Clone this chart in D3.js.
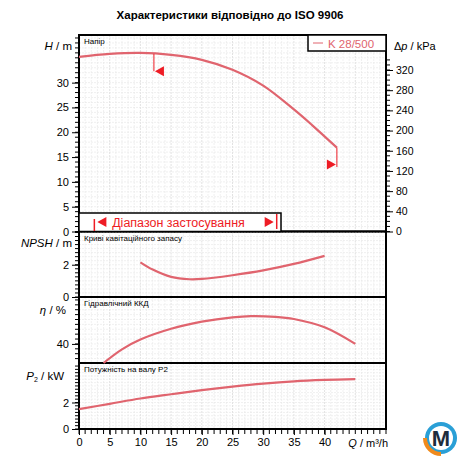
<!DOCTYPE html>
<html><head><meta charset="utf-8">
<script src="https://cdn.jsdelivr.net/npm/d3@7"></script>
<style>body{margin:0;background:#fff;font-family:Arial,"Liberation Sans",sans-serif}</style>
</head><body><div id="chart"></div>
<script>
'use strict';

// Data
const headQ = [0, 5, 10, 15, 20, 25, 30, 35, 38, 42];
const headH = [35.2, 35.8, 36.0, 35.6, 34.6, 32.6, 29.4, 24.6, 21.4, 16.9];
const npshQ = [10, 12, 15, 18, 20, 25, 30, 35, 40];
const npshV = [2.15, 1.7, 1.25, 1.1, 1.12, 1.35, 1.65, 2.05, 2.55];
const etaQ = [4, 7, 10, 15, 20, 25, 28, 32, 35, 40, 45];
const etaV = [32.2, 37.8, 41.8, 46.2, 49.1, 50.9, 51.4, 51.1, 50.2, 46.8, 40];
const powQ = [0, 5, 10, 15, 20, 25, 30, 35, 40, 45];
const powV = [1.5, 1.9, 2.3, 2.62, 2.93, 3.2, 3.43, 3.6, 3.7, 3.76];
const qTicks = [0, 5, 10, 15, 20, 25, 30, 35, 40];
const hTicks = [0, 5, 10, 15, 20, 25, 30];
const pTicks = [0, 40, 80, 120, 160, 200, 240, 280, 320];

const svg = d3.select('#chart').append('svg').attr('width', 460).attr('height', 460);
const red = '#e0646e', bright = '#ee1c25';
const x = d3.scaleLinear().domain([0, 50]).range([79, 386]);

svg.append('text').attr('x', 230).attr('y', 19).attr('text-anchor', 'middle')
    .attr('font-size', 11.5).attr('font-weight', 'bold').text('Характеристики відповідно до ISO 9906');

// Panels
const panels = [
    {top: 35, bottom: 231.5, domain: [0, 39.6], minor: 1, major: 5, ticks: hTicks, label: 'H / m', title: 'Напір'},
    {top: 231.5, bottom: 297, domain: [0, 4.06], minor: 0.25, major: 1, ticks: [0, 2], label: 'NPSH / m', title: 'Криві кавітаційного запасу'},
    {top: 297, bottom: 363, domain: [32.2, 59.2], minor: 2, major: 10, ticks: [40], label: 'η / %', title: 'Гідравлічний ККД'},
    {top: 363, bottom: 429, domain: [0, 4.98], minor: 0.25, major: 1, ticks: [0, 2], label: 'P₂ / kW', title: 'Потужність на валу P2'}
];
const line = d3.line().curve(d3.curveCatmullRom.alpha(0.5));

panels.forEach(p => {
    p.y = d3.scaleLinear().domain(p.domain).range([p.bottom, p.top]);
    const g = svg.append('g');
    // grid
    d3.range(0, 50.01, 1).forEach(q => {
        g.append('line').attr('x1', x(q)).attr('x2', x(q)).attr('y1', p.top).attr('y2', p.bottom)
            .attr('stroke', q % 5 === 0 ? '#cfcfcf' : '#e6e6e6').attr('stroke-dasharray', '2,1').attr('stroke-width', 0.6);
    });
    const start = Math.ceil(p.domain[0] / p.minor) * p.minor;
    d3.range(start, p.domain[1], p.minor).forEach(v => {
        const yy = p.y(v);
        g.append('line').attr('x1', x(0)).attr('x2', x(50)).attr('y1', yy).attr('y2', yy)
            .attr('stroke', '#e6e6e6').attr('stroke-dasharray', '2,1').attr('stroke-width', 0.6);
        g.append('line').attr('x1', x(0) - 4).attr('x2', x(0)).attr('y1', yy).attr('y2', yy)
            .attr('stroke', '#000').attr('stroke-width', 1);
    });
    const ax = g.append('g').attr('transform', `translate(${x(0)},0)`)
        .call(d3.axisLeft(p.y).tickValues(p.ticks).tickSize(7).tickFormat(d3.format('d')));
    ax.select('.domain').remove();
    ax.selectAll('text').attr('font-size', 11).attr('font-family', 'Arial, sans-serif');
    g.append('rect').attr('x', x(0)).attr('y', p.top).attr('width', x(50) - x(0)).attr('height', p.bottom - p.top)
        .attr('fill', 'none').attr('stroke', '#000').attr('stroke-width', 2);
    g.append('text').attr('x', x(0) + 5).attr('y', p.top + 9).attr('font-size', 8).text(p.title);
});

// axis labels
const lab = (xx, yy, html) => svg.append('text').attr('x', xx).attr('y', yy).attr('text-anchor', 'end')
    .attr('font-size', 11.5).html(html);
lab(72, 50, '<tspan font-style="italic">H</tspan> / m');
lab(72, 247, '<tspan font-style="italic">NPSH</tspan> / m');
lab(66, 314, '<tspan font-style="italic">η</tspan> / %');
lab(64, 380, '<tspan font-style="italic">P</tspan><tspan font-size="7" dy="2">2</tspan><tspan dy="-2"> / kW</tspan>');

// right Δp axis
const yP = d3.scaleLinear().domain([0, 320]).range([231.5, 70]);
d3.range(0, 345, 10).forEach(v => svg.append('line').attr('x1', x(50)).attr('x2', x(50) + 4)
    .attr('y1', yP(v)).attr('y2', yP(v)).attr('stroke', '#000'));
const ra = svg.append('g').attr('transform', `translate(${x(50)},0)`)
    .call(d3.axisRight(yP).tickValues(pTicks).tickSize(7));
ra.select('.domain').remove();
ra.selectAll('text').attr('font-size', 10.5).attr('font-family', 'Arial, sans-serif');
svg.append('text').attr('x', 394).attr('y', 50).attr('font-size', 11).html('Δ<tspan font-style="italic">p</tspan> / kPa');

// bottom Q axis
d3.range(0, 50.01, 1).forEach(q => svg.append('line').attr('x1', x(q)).attr('x2', x(q))
    .attr('y1', 429).attr('y2', 434).attr('stroke', '#000'));
const ba = svg.append('g').attr('transform', 'translate(0,429)')
    .call(d3.axisBottom(x).tickValues(qTicks).tickSize(6));
ba.select('.domain').remove();
ba.selectAll('text').attr('font-size', 11).attr('font-family', 'Arial, sans-serif');
svg.append('text').attr('x', 388).attr('y', 447).attr('text-anchor', 'end').attr('font-size', 11)
    .html('<tspan font-style="italic">Q</tspan> / m³/h');

// curves
const draw = (p, qs, vs) => svg.append('path').attr('fill', 'none').attr('stroke', red).attr('stroke-width', 2.2)
    .attr('d', line(qs.map((q, i) => [x(q), p.y(vs[i])])));
draw(panels[0], headQ, headH);
draw(panels[1], npshQ, npshV);
draw(panels[2], etaQ, etaV);
draw(panels[3], powQ, powV);

// operating markers
const yH = panels[0].y;
const tri = (xx, yy, dir) => svg.append('path').attr('fill', bright)
    .attr('d', dir < 0 ? `M${xx},${yy}l9,-5v10z` : `M${xx},${yy}l-9,-5v10z`);
svg.append('line').attr('x1', x(12.2)).attr('x2', x(12.2)).attr('y1', yH(35.8)).attr('y2', yH(32.3)).attr('stroke', bright);
tri(x(12.2) + 1, yH(32.3), -1);
svg.append('line').attr('x1', x(42)).attr('x2', x(42)).attr('y1', yH(16.9)).attr('y2', yH(13)).attr('stroke', bright);
tri(x(42) - 1, yH(13.5), 1);

// application range
svg.append('rect').attr('x', x(0)).attr('y', 213).attr('width', x(32.9) - x(0)).attr('height', 18.5)
    .attr('fill', '#fff').attr('stroke', '#000').attr('stroke-width', 1.5);
svg.append('line').attr('x1', x(2.5)).attr('x2', x(2.5)).attr('y1', 219).attr('y2', 231).attr('stroke', bright).attr('stroke-width', 1.5);
tri(x(2.5) + 3, 222, -1);
svg.append('line').attr('x1', x(32.2)).attr('x2', x(32.2)).attr('y1', 214).attr('y2', 229).attr('stroke', bright).attr('stroke-width', 1.5);
tri(x(32.2) - 3, 222, 1);
svg.append('text').attr('x', x(5.4)).attr('y', 227).attr('font-size', 12.5).attr('fill', bright).text('Діапазон застосування');

// legend
svg.append('rect').attr('x', 308).attr('y', 35).attr('width', 78).attr('height', 16)
    .attr('fill', '#fff').attr('stroke', '#000').attr('stroke-width', 1.5);
svg.append('line').attr('x1', 313).attr('x2', 323).attr('y1', 43).attr('y2', 43).attr('stroke', red);
svg.append('text').attr('x', 328).attr('y', 47.5).attr('font-size', 11.5).attr('fill', red).text('K 28/500');

// logo
svg.append('circle').attr('cx', 441).attr('cy', 438).attr('r', 16).attr('fill', '#2a9fd6');
svg.append('circle').attr('cx', 441).attr('cy', 438).attr('r', 12).attr('fill', '#fff');
svg.append('text').attr('x', 441).attr('y', 446).attr('text-anchor', 'middle').attr('font-size', 22)
    .attr('font-weight', 'bold').attr('fill', '#1d2d3d').text('M');
svg.append('path').attr('d', 'M425,438 A16,16 0 0,0 441,454').attr('fill', 'none').attr('stroke', '#f08a1c').attr('stroke-width', 4);
</script></body></html>
